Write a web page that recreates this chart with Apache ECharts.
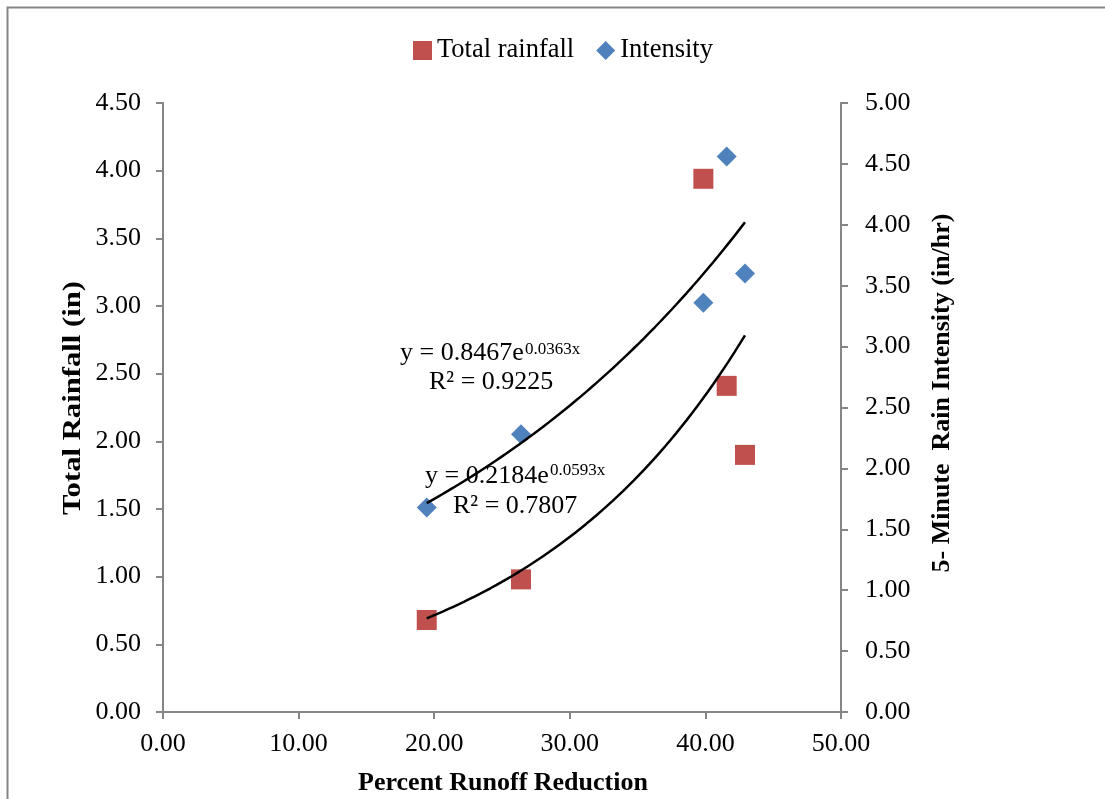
<!DOCTYPE html>
<html>
<head>
<meta charset="utf-8">
<script src="https://cdn.jsdelivr.net/npm/echarts@6/dist/echarts.min.js"></script>
<style>
html,body{margin:0;padding:0;background:#fff;}
#chart{width:1105px;height:799px;}
</style>
</head>
<body>
<div id="chart"></div>
<script>
// Data
const runoffReduction = [19.45, 26.40, 39.85, 41.57, 42.92];
const totalRainfall   = [0.68, 0.98, 3.94, 2.41, 1.90];
const intensity       = [1.68, 2.28, 3.36, 4.56, 3.60];

// Exponential trendlines as printed on the chart: y = a * e^(b x)
const rainfallTrend  = [0.2184, 0.0593];
const intensityTrend = [0.8467, 0.0363];

const xTicks = ['0.00','10.00','20.00','30.00','40.00','50.00'];

function pairs(xs, ys){ return xs.map((x,i)=>[x, ys[i]]); }
function trendCurve(coef, xs){
  const lo = Math.min(...xs), hi = Math.max(...xs);
  const pts = [];
  const n = 60;
  for(let i=0;i<=n;i++){
    const x = lo + (hi-lo)*i/n;
    pts.push([x, coef[0]*Math.exp(coef[1]*x)]);
  }
  return pts;
}

const FONT = "'Liberation Serif','Times New Roman',serif";
const axisGray = '#868686';

const chart = echarts.init(document.getElementById('chart'), null, {renderer:'canvas'});
const option = {
  backgroundColor:'#ffffff',
  animation:false,
  textStyle:{fontFamily:FONT},
  grid:{left:163, right:264, top:103, bottom:87, containLabel:false},
  legend:{
    top:32, left:408,
    itemWidth:19, itemHeight:19, itemGap:22,
    textStyle:{fontFamily:FONT, fontSize:26.5, color:'#000'},
    data:[{name:'Total rainfall', icon:'rect'},{name:'Intensity', icon:'diamond'}]
  },
  xAxis:{
    type:'value', min:0, max:50, interval:10,
    axisLine:{show:true, onZero:false, lineStyle:{color:axisGray, width:2}},
    axisTick:{show:true, length:7, inside:false, lineStyle:{color:axisGray, width:2}},
    splitLine:{show:false},
    axisLabel:{fontFamily:FONT, fontSize:26, color:'#000', margin:19,
      formatter:(v)=>xTicks[Math.round(v/10)]}
  },
  yAxis:[
    {
      type:'value', min:0, max:4.5, interval:0.5, position:'left',
      axisLine:{show:true, onZero:false, lineStyle:{color:axisGray, width:2}},
      axisTick:{show:true, length:7, lineStyle:{color:axisGray, width:2}},
      splitLine:{show:false},
      axisLabel:{fontFamily:FONT, fontSize:26, color:'#000', margin:22,
        formatter:(v)=>v.toFixed(2)}
    },
    {
      type:'value', min:0, max:5, interval:0.5, position:'right',
      axisLine:{show:true, onZero:false, lineStyle:{color:axisGray, width:2}},
      axisTick:{show:true, length:7, lineStyle:{color:axisGray, width:2}},
      splitLine:{show:false},
      axisLabel:{fontFamily:FONT, fontSize:26, color:'#000', margin:24,
        formatter:(v)=>v.toFixed(2)}
    }
  ],
  series:[
    {
      name:'Total rainfall', type:'scatter', yAxisIndex:0,
      symbol:'rect', symbolSize:20,
      itemStyle:{color:'#C0504D', opacity:1},
      data:pairs(runoffReduction, totalRainfall), z:3
    },
    {
      name:'Intensity', type:'scatter', yAxisIndex:1,
      symbol:'diamond', symbolSize:[20,20],
      itemStyle:{color:'#4F81BD', opacity:1},
      data:pairs(runoffReduction, intensity), z:3
    },
    {
      name:'Rainfall trend', type:'line', yAxisIndex:0, showSymbol:false, symbol:'none',
      lineStyle:{color:'#000', width:2.5}, data:trendCurve(rainfallTrend, runoffReduction), z:4,
      silent:true
    },
    {
      name:'Intensity trend', type:'line', yAxisIndex:1, showSymbol:false, symbol:'none',
      lineStyle:{color:'#000', width:2.5}, data:trendCurve(intensityTrend, runoffReduction), z:4,
      silent:true
    }
  ],
  graphic:[
    {type:'rect', shape:{x:7.5, y:7.5, width:1300, height:900}, style:{fill:null, stroke:'#868686', lineWidth:2}, z:-1, silent:true},
    {type:'text', x:503, y:783, style:{text:'Percent Runoff Reduction', font:"bold 26px 'Liberation Serif'", fill:'#000', align:'center', verticalAlign:'middle'}},
    {type:'text', x:73, y:398, rotation:Math.PI/2, scaleX:1.18, style:{text:'Total Rainfall (in)', font:"bold 26px 'Liberation Serif'", fill:'#000', align:'center', verticalAlign:'middle'}},
    {type:'text', x:942, y:393, rotation:Math.PI/2, style:{text:'5- Minute  Rain Intensity (in/hr)', font:"bold 26px 'Liberation Serif'", fill:'#000', align:'center', verticalAlign:'middle'}},
    {type:'text', x:400, y:353, z:10, style:{text:'y = 0.8467e', font:"26px 'Liberation Serif'", fill:'#000', align:'left', verticalAlign:'middle'}},
    {type:'text', x:525, y:350, z:10, style:{text:'0.0363x', font:"17px 'Liberation Serif'", fill:'#000', align:'left', verticalAlign:'middle'}},
    {type:'text', x:429, y:382, z:10, style:{text:'R² = 0.9225', font:"26px 'Liberation Serif'", fill:'#000', align:'left', verticalAlign:'middle'}},
    {type:'text', x:425, y:476, z:10, style:{text:'y = 0.2184e', font:"26px 'Liberation Serif'", fill:'#000', align:'left', verticalAlign:'middle'}},
    {type:'text', x:550, y:471, z:10, style:{text:'0.0593x', font:"17px 'Liberation Serif'", fill:'#000', align:'left', verticalAlign:'middle'}},
    {type:'text', x:453, y:506, z:10, style:{text:'R² = 0.7807', font:"26px 'Liberation Serif'", fill:'#000', align:'left', verticalAlign:'middle'}}
  ]
};
chart.setOption(option);
</script>
</body>
</html>
